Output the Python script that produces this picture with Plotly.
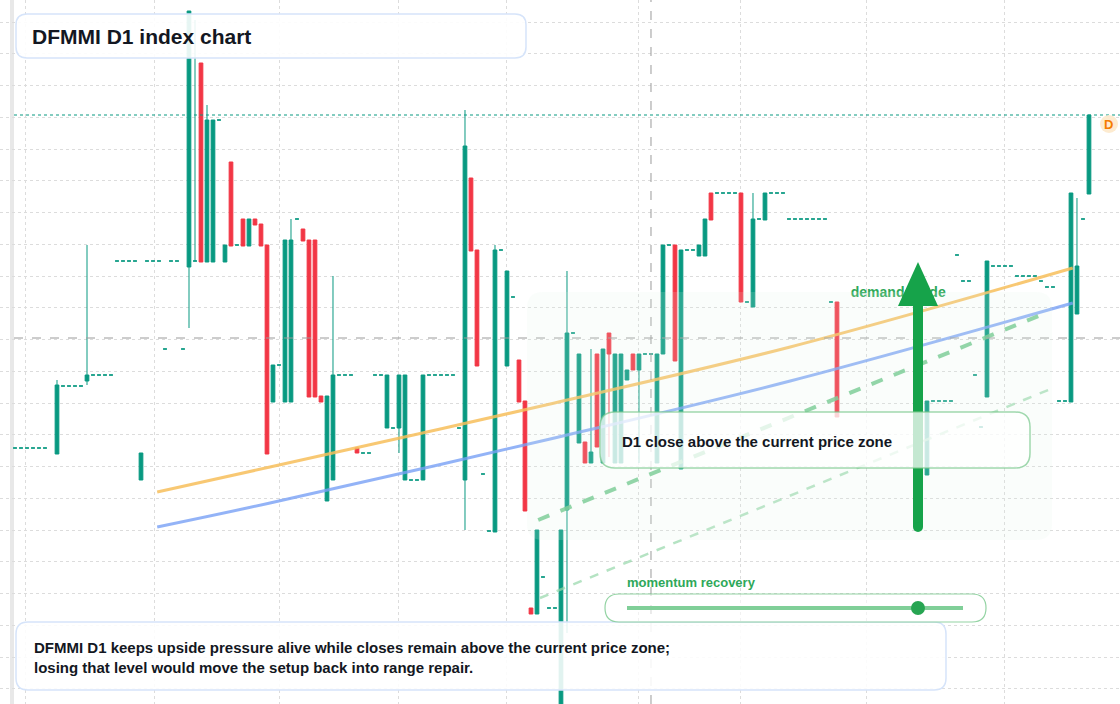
import plotly.graph_objects as go
import numpy as np

W, H = 1120, 704

# ---- candle data (index, open, close) ----
green_bars = [
    (2,75.2,75.2),(3,75.2,75.2),(4,75.2,75.2),(5,75.2,75.2),(6,75.2,75.2),(7,75.2,75.2),
    (9,74.6,81.5),(10,81.4,81.4),(11,81.4,81.4),(12,81.4,81.4),(13,81.4,81.4),
    (14,81.9,82.5),(15,82.5,82.5),(16,82.5,82.5),(17,82.5,82.5),(18,82.5,82.5),
    (19,93.9,93.9),(20,93.9,93.9),(21,93.9,93.9),(22,93.9,93.9),(23,72.0,74.7),
    (24,93.9,93.9),(25,93.9,93.9),(26,93.9,93.9),(27,85.1,85.1),(28,93.9,93.9),(29,93.9,93.9),
    (30,85.1,85.1),(31,93.3,118.9),(32,93.9,93.9),(34,93.8,108.0),(35,93.8,108.0),(36,108.0,108.0),
    (37,93.8,95.5),(39,95.5,95.5),(41,95.4,98.1),(45,79.8,83.5),(46,83.5,83.5),
    (47,79.8,96.0),(48,79.8,96.0),(49,98.1,98.1),(54,69.9,80.4),(55,72.0,82.5),
    (56,82.5,82.5),(57,82.5,82.5),(58,82.5,82.5),(60,74.7,74.7),(61,74.7,74.7),
    (62,82.5,82.5),(63,82.5,82.5),(64,77.2,82.5),(65,77.2,77.2),(66,77.2,82.5),(67,72.0,82.5),
    (68,72.0,72.0),(69,72.0,72.0),(70,72.0,82.5),(71,82.5,82.5),(72,82.5,82.5),(73,82.5,82.5),
    (74,82.5,82.5),(75,82.5,82.5),(76,77.2,77.2),(77,72.0,105.4),(80,72.6,72.6),(81,66.9,66.9),
    (82,66.8,95.0),(83,95.0,95.0),(84,83.4,92.9),(85,90.3,90.3),(89,58.6,67.0),(90,62.3,62.3),
    (91,59.2,59.2),(92,59.2,59.2),(93,49.0,67.0),(94,69.0,86.7),(95,86.7,86.7),(96,75.7,84.6),
    (98,73.7,74.8),(100,73.7,85.1),(102,73.7,84.6),(103,73.7,84.6),(104,82.0,83.0),
    (106,83.0,84.6),(107,84.6,84.6),(108,84.6,84.6),(109,73.7,84.6),(110,84.6,95.5),(111,95.5,95.5),
    (113,73.1,95.0),(114,95.0,95.0),(115,95.0,95.0),(116,94.4,95.5),(117,94.4,98.1),
    (119,100.7,100.7),(120,100.7,100.7),(121,100.7,100.7),(122,100.7,100.7),(124,89.8,89.8),
    (125,89.3,98.1),(126,98.1,98.1),(127,98.0,100.7),(128,100.7,100.7),(129,100.7,100.7),(130,100.7,100.7),
    (131,98.1,98.1),(132,98.1,98.1),(133,98.1,98.1),(134,98.1,98.1),(135,98.1,98.1),(136,98.1,98.1),(137,98.1,98.1),
    (138,89.8,89.8),(154,72.5,79.9),(155,79.9,79.9),(156,79.9,79.9),(157,79.9,79.9),(158,79.9,79.9),
    (159,94.5,94.5),(160,91.9,91.9),(161,91.9,91.9),(162,82.5,82.5),(163,77.3,77.3),(164,80.3,93.9),
    (165,93.4,93.4),(166,93.4,93.4),(167,93.4,93.4),(168,93.4,93.4),(169,92.4,92.4),(170,92.4,92.4),
    (171,92.4,92.4),(172,92.4,92.4),(173,91.9,91.9),(174,91.3,91.3),(175,91.3,91.3),
    (176,79.9,79.9),(177,79.9,79.9),(178,79.8,100.7),(179,88.6,93.4),(180,98.1,98.1),(181,100.6,108.5),
]
red_bars = [
    (33,113.7,93.8),(38,103.8,95.4),(40,98.1,95.4),(42,98.1,97.5),(43,97.6,95.4),(44,95.5,74.6),
    (50,97.1,95.9),(51,96.0,80.3),(52,96.0,80.3),(53,80.4,79.8),(59,75.2,74.7),(78,102.2,94.9),
    (79,95.0,83.4),(86,84.0,79.8),(87,79.9,68.9),(88,59.2,58.6),(97,75.8,73.7),(99,84.6,75.3),
    (101,86.7,84.6),(105,84.6,83.0),(112,95.5,83.9),(118,100.7,98.0),(123,100.7,89.8),(139,89.8,78.3),
]
# wick extremes (high, low) where they extend beyond the body
wicks = {9:(82.0,74.6),14:(95.5,81.5),31:(118.9,87.2),32:(118.0,93.9),34:(109.5,93.8),
         48:(98.1,79.8),55:(92.4,72.0),66:(82.5,74.7),77:(109.0,67.0),82:(95.5,66.8),
         94:(92.9,56.7),98:(85.1,73.7),101:(86.7,74.3),106:(84.6,73.7),125:(100.7,89.3),
         179:(100.2,88.6)}

# trend guides (index, price)
orange_x = [25.7, 44.5, 91.2, 131.2, 178.3]
orange_y = [70.8, 73.3, 79.6, 85.3, 93.2]
blue_x = [25.7, 44.5, 91.2, 131.2, 178.3]
blue_y = [67.3, 69.7, 76.1, 81.9, 89.7]
guide1_x = [89.2, 174.2]
guide1_y = [68.0, 88.8]
guide2_x = [89.5, 174.2]
guide2_y = [60.2, 81.0]
last_price = 108.5
cross_price = 86.2
cross_index = 108
x_grid = [3.8, 25.2, 46.0, 66.0, 84.0, 106.0, 123.0, 144.0, 167.0]


def split(bars):
    i = [b[0] for b in bars]; o = [b[1] for b in bars]; c = [b[2] for b in bars]
    h = [wicks.get(b[0], (max(b[1], b[2]), 0))[0] for b in bars]
    l = [wicks.get(b[0], (0, min(b[1], b[2])))[1] for b in bars]
    return i, o, h, l, c

fig = go.Figure()
for bars, col in [(green_bars, "#089981"), (red_bars, "#f23645")]:
    i, o, h, l, c = split(bars)
    fig.add_trace(go.Candlestick(x=i, open=o, high=h, low=l, close=c,
        increasing=dict(line=dict(color=col, width=1), fillcolor=col),
        decreasing=dict(line=dict(color=col, width=1), fillcolor=col),
        whiskerwidth=0, showlegend=False, hoverinfo="skip"))

fig.add_trace(go.Scatter(x=orange_x, y=orange_y, mode="lines", line=dict(color="rgba(247,190,90,0.85)", width=3, shape="spline"), showlegend=False))
fig.add_trace(go.Scatter(x=blue_x, y=blue_y, mode="lines", line=dict(color="rgba(120,160,245,0.8)", width=3, shape="spline"), showlegend=False))
fig.add_trace(go.Scatter(x=guide1_x, y=guide1_y, mode="lines", line=dict(color="rgba(110,200,140,0.85)", width=4, dash="dash"), showlegend=False))
fig.add_trace(go.Scatter(x=guide2_x, y=guide2_y, mode="lines", line=dict(color="rgba(150,215,170,0.7)", width=2.5, dash="dash"), showlegend=False))
fig.add_trace(go.Scatter(x=[141.3], y=[90.7], mode="text", text=["<b>demand guide</b>"], textposition="middle right",
    textfont=dict(family="Liberation Sans", size=14, color="#2ea859"), showlegend=False))


def X(x): return x / W
def Y(y): return 1 - y / H

def rrect(x0, y0, x1, y1, r):
    p = lambda x, y: f"{X(x):.5f},{Y(y):.5f}"
    return (f"M {p(x0+r,y0)} L {p(x1-r,y0)} Q {p(x1,y0)} {p(x1,y0+r)} L {p(x1,y1-r)} "
            f"Q {p(x1,y1)} {p(x1-r,y1)} L {p(x0+r,y1)} Q {p(x0,y1)} {p(x0,y1-r)} "
            f"L {p(x0,y0+r)} Q {p(x0,y0)} {p(x0+r,y0)} Z")

shapes = []
P = dict(xref="paper", yref="paper")
shapes.append(dict(type="rect", **P, x0=X(10), x1=X(14), y0=0, y1=1, fillcolor="#e8e8e8", line_width=0, layer="below"))
shapes.append(dict(type="line", xref="paper", yref="y", x0=X(14), x1=1, y0=last_price, y1=last_price, line=dict(color="#089981", width=1, dash="dot")))
shapes.append(dict(type="line", xref="paper", yref="y", x0=X(14), x1=1, y0=cross_price, y1=cross_price, line=dict(color="#9a9a9a", width=1, dash="dash")))
shapes.append(dict(type="line", xref="x", yref="paper", x0=cross_index, x1=cross_index, y0=0, y1=1, line=dict(color="#9a9a9a", width=1, dash="dash")))
# demand zone
shapes.append(dict(type="path", **P, path=rrect(527, 292, 1052, 540, 16), fillcolor="rgba(225,245,232,0.16)", line_width=0, layer="above"))
# arrow
shapes.append(dict(type="line", **P, x0=X(918), x1=X(918), y0=Y(527), y1=Y(300), line=dict(color="#16a34a", width=10)))
shapes.append(dict(type="circle", **P, x0=X(913), x1=X(923), y0=Y(532), y1=Y(522), fillcolor="#16a34a", line_width=0))
shapes.append(dict(type="path", **P, path=f"M {X(918)},{Y(262)} L {X(938)},{Y(306)} L {X(898)},{Y(306)} Z", fillcolor="#16a34a", line_width=0))
# boxes
shapes.append(dict(type="path", **P, path=rrect(16, 14, 526, 58, 11), fillcolor="rgba(255,255,255,0.9)", line=dict(color="#d6e4fa", width=1.5)))
shapes.append(dict(type="path", **P, path=rrect(16, 622, 946, 690, 12), fillcolor="rgba(255,255,255,0.88)", line=dict(color="#d6e4fa", width=1.5)))
shapes.append(dict(type="path", **P, path=rrect(600, 412, 1030, 468, 15), fillcolor="rgba(255,255,255,0.75)", line=dict(color="rgba(120,200,140,0.7)", width=1.5)))
shapes.append(dict(type="path", **P, path=rrect(605, 594, 986, 622, 14), fillcolor="rgba(255,255,255,0.6)", line=dict(color="rgba(120,200,140,0.8)", width=1.2)))
shapes.append(dict(type="line", **P, x0=X(627), x1=X(963), y0=Y(608), y1=Y(608), line=dict(color="#80cf98", width=4)))
shapes.append(dict(type="circle", **P, x0=X(911), x1=X(925), y0=Y(615), y1=Y(601), fillcolor="#27a552", line_width=0))
# D badge
shapes.append(dict(type="circle", **P, x0=X(1100), x1=X(1118), y0=Y(133), y1=Y(115), fillcolor="#fdebd0", line_width=0))

F = "Liberation Sans"
ann = [
    dict(x=X(30), y=Y(36), text="<b>DFMMI D1 index chart</b>", font=dict(family=F, size=21, color="#131722")),
    dict(x=X(32), y=Y(647), text="<b>DFMMI D1 keeps upside pressure alive while closes remain above the current price zone;</b>", font=dict(family=F, size=15, color="#131722")),
    dict(x=X(32), y=Y(667), text="<b>losing that level would move the setup back into range repair.</b>", font=dict(family=F, size=15, color="#131722")),
    dict(x=X(620), y=Y(441), text="<b>D1 close above the current price zone</b>", font=dict(family=F, size=15, color="#131722")),
    dict(x=X(625), y=Y(582), text="<b>momentum recovery</b>", font=dict(family=F, size=13, color="#2ea859")),
    dict(x=X(1102), y=Y(124), text="<b>D</b>", font=dict(family=F, size=13, color="#f57c00")),
]
for a in ann:
    a.update(xref="paper", yref="paper", xanchor="left", yanchor="middle", showarrow=False)

fig.update_layout(
    width=W, height=H, margin=dict(l=0, r=0, t=0, b=0),
    paper_bgcolor="white", plot_bgcolor="white", boxgap=0.12,
    shapes=shapes, annotations=ann, showlegend=False,
    xaxis=dict(range=[-0.5, 186.17], tickvals=x_grid, showticklabels=False, showgrid=True,
               gridcolor="#dcdcdc", griddash="dot", zeroline=False, rangeslider=dict(visible=False), fixedrange=True),
    yaxis=dict(range=[49.6, 120], tickmode="linear", tick0=117.8, dtick=3.175, showticklabels=False,
               showgrid=True, gridcolor="#dcdcdc", griddash="dot", zeroline=False),
)
fig.write_html("out.html", config={"displayModeBar": False},
               post_script="document.body.style.margin='0';document.body.style.overflow='hidden';")
